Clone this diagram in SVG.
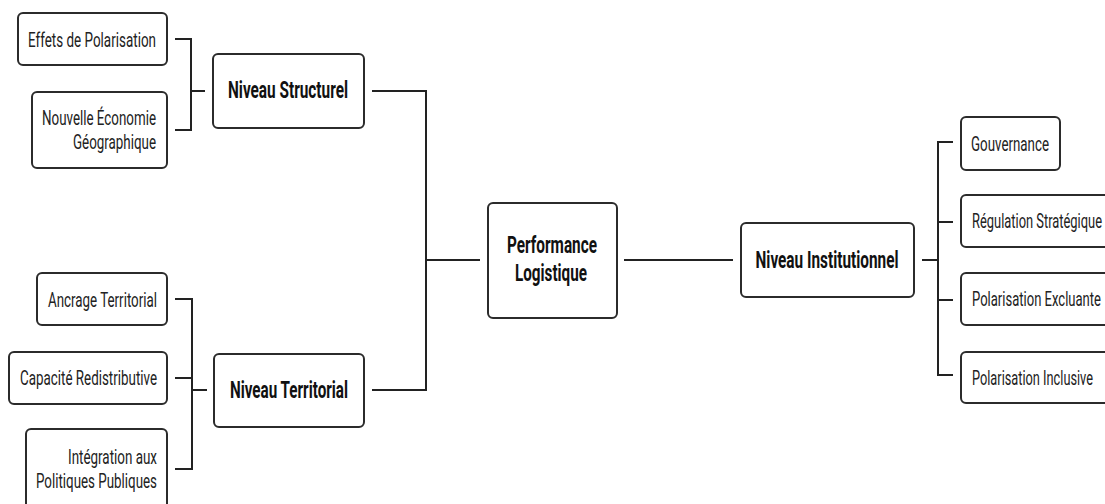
<svg xmlns="http://www.w3.org/2000/svg" width="1105" height="504" viewBox="0 0 1105 504">
<style>
.box{fill:#ffffff;stroke:#2b2b2b;stroke-width:2}
.t{font-family:Roboto,"Liberation Sans",sans-serif;font-size:21px;fill:#222}
.b{font-family:Roboto,"Liberation Sans",sans-serif;font-size:23px;font-weight:bold;fill:#111}
.c{fill:none;stroke:#222;stroke-width:2}
</style>
<rect width="1105" height="504" fill="#ffffff"/>
<g id="connectors">
<path class="c" d="M175,39 H191 V130 H175"/>
<path class="c" d="M191,91 H205"/>
<path class="c" d="M175,299 H192 V469 H175"/>
<path class="c" d="M175,378 H192"/>
<path class="c" d="M192,390 H207"/>
<path class="c" d="M372,91 H426 V390 H372"/>
<path class="c" d="M426,260 H480"/>
<path class="c" d="M624,260 H733"/>
<path class="c" d="M922,260 H938"/>
<path class="c" d="M953,142 H938 V375 H953"/>
<path class="c" d="M938,222 H953"/>
<path class="c" d="M938,300 H953"/>
</g>
<g id="effets">
<rect class="box" x="18" y="13" width="149" height="52" rx="5"/>
<text class="t" x="156" y="47" text-anchor="end" textLength="128" lengthAdjust="spacingAndGlyphs">Effets de Polarisation</text>
</g>
<g id="nouvelle">
<rect class="box" x="32" y="92" width="135" height="76" rx="5"/>
<text class="t" x="156" y="125" text-anchor="end" textLength="114" lengthAdjust="spacingAndGlyphs">Nouvelle Économie</text>
<text class="t" x="156" y="149" text-anchor="end" textLength="83" lengthAdjust="spacingAndGlyphs">Géographique</text>
</g>
<g id="structurel">
<rect class="box" x="213" y="54" width="151" height="74" rx="5"/>
<text class="b" x="288" y="98" text-anchor="middle" textLength="120" lengthAdjust="spacingAndGlyphs">Niveau Structurel</text>
</g>
<g id="ancrage">
<rect class="box" x="37" y="273" width="130" height="52" rx="5"/>
<text class="t" x="157" y="307" text-anchor="end" textLength="109" lengthAdjust="spacingAndGlyphs">Ancrage Territorial</text>
</g>
<g id="capacite">
<rect class="box" x="9" y="352" width="158" height="52" rx="5"/>
<text class="t" x="157" y="385" text-anchor="end" textLength="137" lengthAdjust="spacingAndGlyphs">Capacité Redistributive</text>
</g>
<g id="integration">
<rect class="box" x="26" y="429" width="141" height="82" rx="5"/>
<text class="t" x="157" y="464" text-anchor="end" textLength="89" lengthAdjust="spacingAndGlyphs">Intégration aux</text>
<text class="t" x="157" y="488" text-anchor="end" textLength="121" lengthAdjust="spacingAndGlyphs">Politiques Publiques</text>
</g>
<g id="territorial">
<rect class="box" x="214" y="354" width="150" height="73" rx="5"/>
<text class="b" x="289" y="398" text-anchor="middle" textLength="118" lengthAdjust="spacingAndGlyphs">Niveau Territorial</text>
</g>
<g id="performance">
<rect class="box" x="488" y="203" width="129" height="115" rx="5"/>
<text class="b" x="552" y="253" text-anchor="middle" textLength="90" lengthAdjust="spacingAndGlyphs">Performance</text>
<text class="b" x="551" y="281" text-anchor="middle" textLength="72" lengthAdjust="spacingAndGlyphs">Logistique</text>
</g>
<g id="institutionnel">
<rect class="box" x="741" y="223" width="173" height="74" rx="5"/>
<text class="b" x="827" y="268" text-anchor="middle" textLength="143" lengthAdjust="spacingAndGlyphs">Niveau Institutionnel</text>
</g>
<g id="gouvernance">
<rect class="box" x="961" y="117" width="99" height="53" rx="5"/>
<text class="t" x="971" y="151" textLength="78" lengthAdjust="spacingAndGlyphs">Gouvernance</text>
</g>
<g id="regulation">
<rect class="box" x="961" y="195" width="160" height="52" rx="5"/>
<text class="t" x="972" y="228" textLength="130" lengthAdjust="spacingAndGlyphs">Régulation Stratégique</text>
</g>
<g id="excluante">
<rect class="box" x="961" y="273" width="160" height="52" rx="5"/>
<text class="t" x="972" y="306" textLength="129" lengthAdjust="spacingAndGlyphs">Polarisation Excluante</text>
</g>
<g id="inclusive">
<rect class="box" x="961" y="352" width="160" height="51" rx="5"/>
<text class="t" x="972" y="385" textLength="121" lengthAdjust="spacingAndGlyphs">Polarisation Inclusive</text>
</g>
</svg>
